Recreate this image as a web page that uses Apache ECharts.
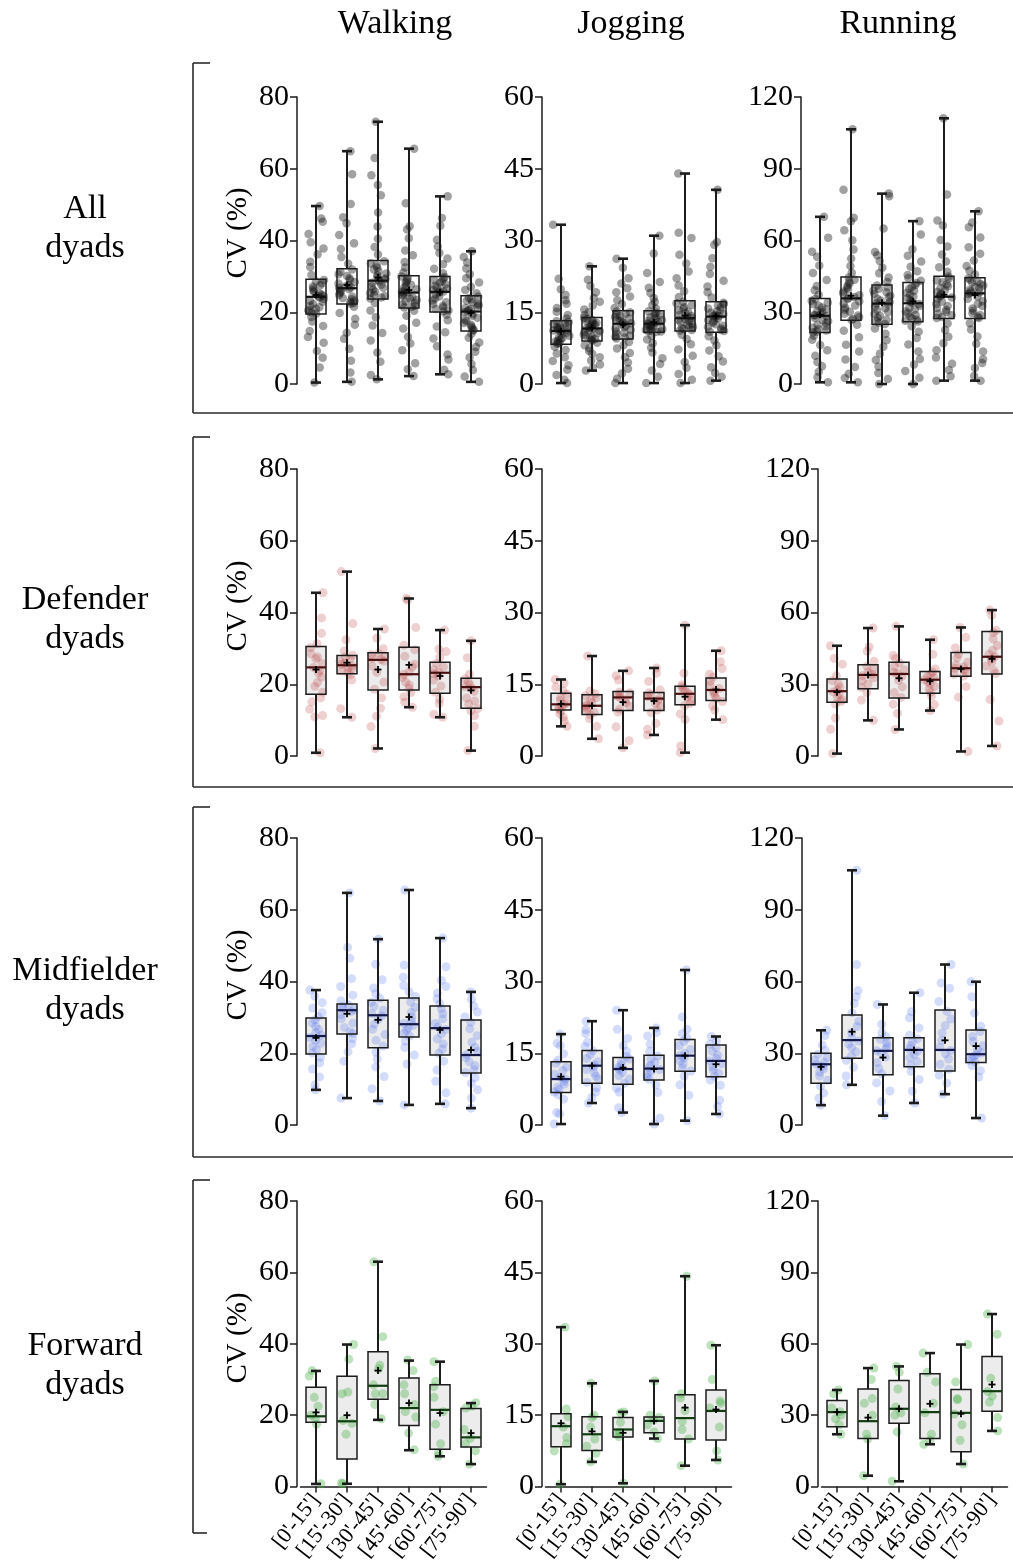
<!DOCTYPE html>
<html><head><meta charset="utf-8">
<script src="https://cdn.jsdelivr.net/npm/echarts@6/dist/echarts.min.js"></script>
<style>html,body{margin:0;padding:0;background:#fff}#c{width:1013px;height:1564px}</style>
</head><body><div id="c"></div>
<script>
// ---------------- DATA ----------------
const categories = ["[0'-15']", "[15'-30']", "[30'-45']", "[45'-60']", "[60'-75']", "[75'-90']"];
const activities = ['Walking', 'Jogging', 'Running'];
const groups = ['All\ndyads', 'Defender\ndyads', 'Midfielder\ndyads', 'Forward\ndyads'];
const yMaxByActivity = [80, 60, 120];
const yStepByActivity = [20, 15, 30];

// box stats per period: [min, Q1, median, Q3, max, mean]
const allWalkBox = [[0.4,19.5,24.3,29.2,49.6,24.8],[0.6,22.3,26.7,32.1,64.9,27.6],[1.3,23.7,28.8,34.4,73.1,29.7],[2.2,21.2,25.5,30.2,65.6,26.2],[2.7,20.1,25.7,30.0,52.3,25.6],[0.6,14.8,20.2,24.6,37.0,19.8]];
const allJogBox = [[0.2,8.3,11.1,13.2,33.3,11.0],[2.8,9.0,11.6,13.9,24.6,11.7],[0.2,9.4,12.6,15.3,26.2,12.4],[0.2,10.8,12.6,15.3,31.0,12.9],[0.2,11.1,13.75,17.4,44.0,14.3],[0.7,10.8,14.1,17.2,40.6,14.2]];
const allRunBox = [[0.7,21.5,28.5,35.8,69.9,29.0],[0.7,26.7,35.8,44.7,106.5,36.9],[0,25.0,33.6,41.4,79.6,34.0],[0,26.0,33.75,42.4,68.1,34.6],[1.4,27.4,36.5,45.1,111.1,37.3],[1.4,27.4,37.9,44.4,72.2,37.2]];
const defWalkBox = [[0.9,17.2,24.7,30.5,45.5,24.1],[10.8,22.9,25.3,28.0,51.4,26.0],[2.1,18.4,26.8,28.8,35.4,24.1],[13.6,18.4,22.8,30.3,43.9,25.4],[10.8,17.5,23.2,26.1,35.1,22.3],[1.5,13.3,19.2,21.7,32.1,18.3]];
const defJogBox = [[6.2,9.6,10.8,13.1,16.0,10.9],[3.6,8.7,10.5,12.8,20.9,10.5],[1.7,9.5,12.25,13.5,17.8,11.25],[4.4,9.5,12.0,13.3,18.4,11.5],[0.7,10.7,13.0,14.6,27.35,12.4],[7.6,11.6,13.8,16.3,22.0,13.9]];
const defRunBox = [[1.0,22.5,27.1,32.2,46.1,26.7],[14.9,28.1,33.9,38.2,53.5,33.9],[11.1,24.2,34.3,39.2,54.2,32.5],[19.0,26.25,31.9,35.3,48.6,31.25],[1.9,33.3,36.7,43.3,53.75,36.4],[4.2,34.3,41.5,52.1,61.0,40.6]];
const midWalkBox = [[9.8,19.8,24.8,29.8,37.6,24.3],[7.5,25.4,32.0,33.7,64.7,31.0],[6.7,21.5,30.6,34.8,51.8,29.3],[5.6,24.5,28.1,35.4,65.5,30.1],[5.9,19.5,27.0,33.2,52.1,26.5],[4.7,14.5,19.5,29.3,37.1,20.9]];
const midJogBox = [[0.2,6.8,9.6,13.2,19.0,10.1],[4.6,8.75,12.4,15.6,21.7,12.4],[2.6,8.5,11.7,14.1,24.0,12.0],[0.2,9.4,11.8,14.6,20.3,11.7],[0.9,11.25,14.5,17.9,32.4,14.5],[2.3,10.1,13.4,16.7,18.5,12.7]];
const midRunBox = [[8.3,17.5,25.4,30.0,39.6,24.3],[16.8,27.9,35.5,46.0,106.5,39.0],[3.9,21.0,31.0,36.5,50.4,28.2],[9.2,24.4,31.4,36.5,55.3,31.4],[12.9,22.6,31.4,48.1,67.1,35.4],[2.9,26.1,29.6,39.7,59.9,33.0]];
const fwdWalkBox = [[0.75,18.0,19.7,27.8,32.4,20.8],[0.8,7.75,18.3,30.9,39.8,20.0],[18.7,24.5,28.25,37.8,63.0,32.5],[10.2,17.1,22.0,30.4,35.3,23.4],[8.5,10.5,21.5,28.5,35.0,20.6],[6.3,11.1,13.8,21.9,23.4,15.0]];
const fwdJogBox = [[0.5,8.4,12.7,15.3,33.5,13.3],[5.2,7.6,11.0,14.7,21.7,11.6],[0.7,10.4,12.0,14.5,15.7,11.3],[10.1,11.3,13.8,14.6,22.2,13.8],[4.4,10.0,14.4,19.3,44.2,16.6],[5.6,9.8,15.9,20.3,29.7,16.2]];
const fwdRunBox = [[22.0,25.2,31.3,36.2,40.6,31.3],[4.6,20.2,27.5,41.0,49.8,29.0],[2.25,26.6,32.7,44.6,50.5,32.7],[17.8,20.2,31.3,47.4,56.1,34.8],[9.5,14.6,31.0,40.8,59.7,30.6],[23.4,31.7,40.1,54.7,72.5,42.9]];

// individual dyad values per period
const allWalkPts = [
 [49.6,46.1,45.2,41.8,39.5,37.8,36.2,34.1,32.6,30.4,29.0,28.6,28.1,27.5,27.2,26.6,26.1,25.7,25.3,24.9,24.6,24.4,24.1,23.7,23.2,22.9,22.3,21.8,21.4,20.9,20.6,20.2,19.9,19.6,18.7,17.4,16.2,14.8,13.1,11.5,9.2,7.3,4.6,0.4],
 [64.9,58.5,50.2,46.5,44.8,41.5,39.2,37.6,35.4,33.5,31.9,31.2,30.6,30.1,29.5,29.0,28.4,28.0,27.6,27.2,26.9,26.8,26.5,26.1,25.7,25.3,24.8,24.4,24.0,23.6,23.2,22.9,22.6,22.4,21.5,19.8,18.2,16.5,14.3,12.6,9.8,6.5,3.2,0.6],
 [73.1,63.0,58.2,55.5,52.6,47.8,43.9,40.5,38.2,36.1,34.2,33.6,33.1,32.5,31.9,31.4,30.8,30.3,29.8,29.4,29.1,28.9,28.6,28.2,27.7,27.2,26.8,26.3,25.8,25.3,24.9,24.5,24.1,23.8,22.6,20.5,18.6,16.3,14.2,12.1,8.8,6.2,2.5,1.3],
 [65.6,50.4,44.0,43.1,40.6,37.2,35.9,34.0,32.5,31.1,30.0,29.6,29.1,28.6,28.2,27.7,27.3,26.8,26.4,26.0,25.7,25.6,25.3,24.9,24.6,24.2,23.8,23.4,23.0,22.6,22.2,21.8,21.5,21.3,20.4,19.0,17.1,15.5,13.2,11.3,9.4,5.8,4.1,2.2],
 [52.3,46.3,44.1,40.2,38.3,36.5,35.0,33.4,32.1,30.9,29.8,29.4,29.0,28.6,28.2,27.8,27.4,27.0,26.6,26.2,25.9,25.8,25.5,25.0,24.4,23.8,23.3,22.8,22.3,21.8,21.3,20.9,20.5,20.2,19.3,17.8,16.0,14.4,12.7,10.5,8.2,6.8,4.0,2.7],
 [37.0,35.4,33.9,32.2,30.6,29.5,28.3,27.1,26.2,25.3,24.4,24.0,23.6,23.2,22.8,22.4,22.0,21.6,21.2,20.9,20.6,20.3,20.0,19.5,19.0,18.5,18.0,17.5,17.0,16.5,16.0,15.6,15.2,14.9,14.0,12.9,11.6,10.3,9.0,7.4,5.6,3.9,2.1,0.6]
];
const allJogPts = [
 [33.3,22.0,19.8,18.6,17.5,16.8,15.9,15.1,14.4,13.7,13.1,12.9,12.7,12.5,12.3,12.1,11.9,11.7,11.5,11.4,11.3,11.2,11.0,10.7,10.4,10.1,9.9,9.6,9.4,9.1,8.9,8.7,8.5,8.4,7.8,7.1,6.4,5.6,4.8,3.9,3.0,1.9,0.9,0.2],
 [24.6,21.8,20.5,19.2,18.0,17.2,16.4,15.6,15.0,14.4,13.8,13.6,13.4,13.2,13.0,12.8,12.6,12.4,12.2,12.0,11.8,11.7,11.5,11.3,11.1,10.8,10.6,10.3,10.1,9.9,9.6,9.4,9.2,9.1,8.6,8.1,7.5,6.9,6.3,5.6,4.9,4.1,3.4,2.8],
 [26.2,24.3,22.1,21.0,20.0,19.2,18.3,17.5,16.7,15.9,15.2,15.0,14.7,14.5,14.2,14.0,13.7,13.5,13.2,13.0,12.8,12.7,12.5,12.2,11.9,11.6,11.3,11.0,10.7,10.4,10.1,9.9,9.7,9.5,8.8,8.1,7.4,6.5,5.6,4.5,3.2,2.2,1.1,0.2],
 [31.0,27.3,23.2,21.3,20.1,19.0,18.0,17.2,16.5,15.8,15.2,14.9,14.7,14.4,14.2,13.9,13.7,13.4,13.2,12.9,12.8,12.7,12.5,12.3,12.2,12.0,11.8,11.7,11.5,11.3,11.2,11.1,11.0,10.9,10.1,9.3,8.5,7.6,6.6,5.4,4.2,2.8,1.5,0.2],
 [44.0,31.6,30.5,27.0,25.2,23.5,22.1,20.6,19.4,18.2,17.2,16.9,16.5,16.1,15.8,15.4,15.1,14.8,14.5,14.2,14.0,13.8,13.6,13.4,13.1,12.9,12.6,12.4,12.1,11.9,11.7,11.5,11.3,11.2,10.3,9.4,8.3,7.2,5.9,4.6,3.4,2.1,0.9,0.2],
 [40.6,29.7,29.1,26.3,24.5,23.0,21.6,20.4,19.2,18.1,17.0,16.7,16.4,16.1,15.8,15.5,15.2,14.9,14.6,14.4,14.2,14.2,14.0,13.7,13.4,13.1,12.8,12.5,12.2,11.9,11.6,11.3,11.1,10.9,10.0,9.1,8.1,7.0,5.8,4.7,3.5,2.3,1.5,0.7]
];
const allRunPts = [
 [69.9,61.2,55.3,53.2,49.5,46.4,43.5,41.0,39.2,37.3,35.5,34.8,34.1,33.4,32.7,32.0,31.3,30.6,30.0,29.4,28.9,28.6,28.3,27.6,26.9,26.2,25.5,24.8,24.1,23.5,22.9,22.4,21.9,21.6,20.2,18.5,16.3,14.1,11.8,9.2,7.4,5.1,2.8,0.7],
 [106.5,81.2,69.5,68.0,64.3,60.1,56.2,52.5,49.3,46.5,44.5,43.6,42.8,42.0,41.2,40.3,39.5,38.7,37.9,37.1,36.4,36.0,35.5,34.6,33.7,32.8,31.9,31.0,30.2,29.4,28.6,27.9,27.2,26.8,24.8,22.3,19.5,16.4,13.6,10.2,7.1,4.3,2.5,0.7],
 [79.6,78.5,65.0,55.2,53.8,51.4,48.6,46.3,44.5,42.6,41.2,40.5,39.8,39.1,38.4,37.7,37.0,36.3,35.6,34.9,34.3,33.8,33.3,32.5,31.7,30.9,30.1,29.3,28.5,27.7,26.9,26.2,25.6,25.1,23.2,21.0,18.3,15.6,12.7,10.0,7.3,4.6,2.1,0],
 [68.1,62.5,56.3,53.6,51.2,49.0,47.1,45.6,44.3,43.2,42.2,41.4,40.6,39.8,39.0,38.2,37.4,36.6,35.8,35.0,34.4,34.0,33.5,32.7,31.9,31.1,30.3,29.6,28.9,28.2,27.5,26.9,26.4,26.1,24.1,21.8,19.2,16.5,13.6,10.5,8.2,5.4,2.6,0],
 [111.1,79.2,68.4,66.3,60.2,57.5,54.1,51.2,48.8,46.9,44.9,44.1,43.3,42.5,41.7,40.9,40.1,39.3,38.5,37.7,37.0,36.7,36.2,35.3,34.4,33.5,32.6,31.8,31.0,30.2,29.4,28.7,28.0,27.6,25.3,22.6,19.8,17.0,14.1,11.1,8.5,5.9,3.2,1.4],
 [72.2,67.5,65.5,61.3,57.2,54.5,51.6,49.3,47.4,45.8,44.2,43.6,43.0,42.4,41.8,41.2,40.6,40.0,39.4,38.8,38.3,38.0,37.6,36.6,35.6,34.6,33.6,32.6,31.6,30.6,29.6,28.8,28.1,27.6,25.4,22.8,19.9,16.8,13.6,10.4,8.8,6.7,3.3,1.4]
];
const defWalkPts = [
 [45.5,38.5,34.2,31.3,30.2,28.5,27.6,27.1,25.8,24.7,23.9,23.1,22.0,20.5,19.4,17.8,16.2,15.1,13.0,11.3,10.9,0.9],
 [51.4,36.9,32.4,29.3,28.1,27.6,27.0,26.4,25.9,25.5,25.1,24.7,24.2,23.7,23.2,22.6,21.2,13.2,10.8],
 [35.4,32.9,29.9,28.6,28.2,27.8,27.2,26.9,26.4,25.1,23.3,20.6,18.6,16.2,13.3,11.1,8.2,2.1],
 [43.9,43.5,35.8,30.9,29.6,27.8,25.6,24.8,23.4,22.8,21.9,20.6,19.8,18.9,17.7,16.5,15.0,13.6],
 [35.1,29.8,29.1,27.5,25.8,24.8,24.0,23.4,22.9,22.3,21.2,19.5,17.8,15.8,14.6,11.6,10.8],
 [32.1,27.4,22.8,21.5,20.6,19.8,19.3,18.8,18.0,16.2,15.3,14.4,13.2,12.6,11.2,8.3,1.5]
];
const defJogPts = [
 [16.0,15.2,14.4,13.6,12.9,12.2,11.6,11.1,10.8,10.4,10.1,9.8,9.4,8.8,8.1,7.3,6.2],
 [20.9,13.6,13.0,12.6,12.2,11.8,11.2,10.7,10.4,10.0,9.5,9.1,8.6,7.8,6.2,3.6],
 [17.8,16.8,15.9,13.4,13.2,12.9,12.5,12.2,11.8,11.1,10.4,9.8,9.2,6.1,3.2,1.7],
 [18.4,17.3,15.6,13.8,13.2,12.8,12.4,12.0,11.6,11.0,10.3,9.6,9.1,6.8,5.6,4.4],
 [27.35,17.3,14.9,14.5,14.1,13.7,13.2,12.8,12.3,11.6,11.0,10.5,8.8,7.6,2.1,0.7],
 [22.0,19.7,18.3,17.1,16.5,15.6,14.8,14.1,13.6,13.2,12.6,12.0,11.4,10.5,9.6,7.6]
];
const defRunPts = [
 [46.1,40.8,38.4,33.6,31.5,30.1,28.7,27.6,26.8,25.9,24.6,23.5,22.8,21.7,15.9,11.2,1.0],
 [53.5,45.6,43.8,39.6,37.5,36.2,35.1,34.2,33.6,32.7,31.5,30.1,28.6,26.5,23.4,14.9],
 [54.2,42.0,40.8,39.0,37.5,36.1,35.0,34.4,33.2,31.6,28.9,26.5,24.5,21.6,17.8,11.1],
 [48.6,42.5,36.4,35.1,34.2,33.4,32.6,31.9,31.0,30.2,29.1,28.0,26.6,25.1,21.5,19.0],
 [53.75,49.6,45.2,42.5,41.0,39.2,38.1,37.3,36.7,36.0,35.1,34.2,33.4,29.0,24.6,1.9],
 [61.0,58.8,52.6,51.6,49.0,46.2,44.1,42.5,41.5,40.5,39.3,37.6,35.8,34.5,23.6,14.6,4.2]
];
const midWalkPts = [
 [37.6,35.9,34.1,32.6,31.3,30.2,29.3,28.4,27.5,26.6,25.7,25.0,24.4,23.6,22.8,21.9,21.0,20.1,18.9,17.3,15.6,13.4,11.2,9.8],
 [64.7,49.5,46.5,40.8,38.6,36.2,34.6,33.5,33.0,32.5,32.1,31.6,30.8,29.6,28.4,27.2,26.0,25.5,24.1,22.6,20.4,17.8,7.5],
 [51.8,44.8,40.5,38.2,36.6,35.3,34.2,33.1,32.0,31.1,30.4,29.4,28.1,26.7,25.2,23.6,22.0,20.3,18.4,16.2,13.5,10.1,6.7],
 [65.5,44.6,41.2,38.9,37.1,35.8,34.2,32.8,31.4,30.1,29.0,28.3,27.8,27.1,26.4,25.6,24.8,23.4,21.6,19.5,17.0,5.6],
 [52.1,44.1,40.3,38.6,36.8,35.2,33.8,32.4,31.0,29.6,28.3,27.4,26.6,25.4,24.0,22.6,21.2,20.0,17.8,15.3,12.2,9.0,5.9],
 [37.1,35.0,33.2,31.5,30.1,28.6,26.8,24.9,23.1,21.6,20.5,19.6,18.8,17.6,16.5,15.4,14.6,13.2,11.6,9.8,7.5,4.7]
];
const midJogPts = [
 [19.0,17.1,16.6,14.9,13.6,12.9,12.1,11.4,10.6,10.0,9.6,9.1,8.5,7.9,7.4,6.9,6.3,5.4,2.6,2.3,0.2],
 [21.7,19.9,19.1,17.3,16.4,15.5,14.7,13.9,13.2,12.6,12.1,11.6,10.9,10.2,9.6,8.9,7.8,6.9,5.8,4.6],
 [24.0,20.0,18.1,16.6,15.4,14.3,13.8,13.2,12.6,12.0,11.6,11.0,10.3,9.6,8.7,7.7,6.9,3.6,2.6],
 [20.3,19.3,18.6,16.9,15.4,14.4,13.8,13.1,12.5,12.0,11.6,11.2,10.6,10.0,9.5,8.4,6.8,1.4,0.2],
 [32.4,22.6,20.0,19.1,18.2,17.5,16.6,15.8,15.0,14.5,14.0,13.4,12.7,11.9,11.3,10.2,8.4,6.2,0.9],
 [18.5,17.6,16.9,16.2,15.4,14.6,13.9,13.4,12.8,12.1,11.5,10.8,10.2,9.4,8.3,5.2,3.9,2.3]
];
const midRunPts = [
 [39.6,37.4,33.5,31.2,29.6,28.2,27.1,26.2,25.4,24.6,23.5,22.1,20.5,18.7,16.2,13.4,11.2,8.3],
 [106.5,67.1,56.2,53.6,50.8,46.9,43.4,41.2,38.6,36.3,35.1,33.8,32.4,30.6,28.8,27.0,24.1,20.5,16.8],
 [50.4,42.1,38.6,36.9,35.8,34.4,33.1,31.9,31.0,30.2,28.4,26.1,23.6,21.4,17.6,14.2,9.8,3.9],
 [55.3,47.4,44.8,40.6,37.5,36.0,34.7,33.2,31.8,30.9,29.6,28.1,26.5,25.0,22.4,19.0,14.1,9.2],
 [67.1,59.4,57.2,51.6,47.5,44.3,41.6,38.5,35.3,32.4,31.1,29.8,27.6,25.4,23.3,20.8,17.5,12.9],
 [59.9,53.6,46.8,41.3,39.1,37.0,34.9,33.1,31.5,30.1,29.4,28.7,27.9,27.0,26.2,24.8,22.7,20.0,2.9]
];
const fwdWalkPts = [
 [32.5,31.0,25.0,22.5,20.0,19.0,17.5,0.8],
 [39.8,35.7,26.5,26.0,18.5,17.7,14.7,1.0,0.8],
 [63.0,42.0,34.0,33.0,28.5,26.0,26.0,23.0,19.0],
 [35.5,32.5,28.5,26.0,23.0,21.0,19.5,15.0,10.3],
 [35.0,29.5,28.0,25.0,21.0,17.5,12.0,9.5,8.5],
 [23.5,22.5,22.0,16.0,13.5,12.0,10.0,6.3]
];
const fwdJogPts = [
 [33.5,16.3,14.7,12.5,10.3,9.0,7.5,0.5],
 [21.7,15.0,14.5,12.5,10.0,8.5,7.0,5.2],
 [15.7,15.5,13.5,11.5,11.0,10.5,0.7],
 [22.2,15.0,14.5,14.0,13.0,11.5,10.1],
 [44.2,19.5,18.6,16.0,13.7,12.0,10.0,4.4],
 [29.7,22.5,18.0,17.5,16.5,12.5,7.5,5.6]
];
const fwdRunPts = [
 [40.6,39.0,33.0,31.5,30.0,28.5,26.0,22.0],
 [49.8,45.0,37.0,35.0,30.0,22.0,20.0,4.6],
 [50.5,48.0,41.0,33.5,31.0,30.0,23.0,2.25],
 [56.1,48.0,44.0,35.0,31.0,22.0,19.5,17.8],
 [59.7,44.0,37.0,36.5,30.5,26.0,19.5,9.5],
 [72.5,64.0,45.5,40.0,38.0,35.5,29.0,23.4]
];

// ---------------- LAYOUT / STYLE ----------------
const FONT = "'Liberation Serif','Times New Roman',serif";
const panelData = [
  [[allWalkBox, allWalkPts], [allJogBox, allJogPts], [allRunBox, allRunPts]],
  [[defWalkBox, defWalkPts], [defJogBox, defJogPts], [defRunBox, defRunPts]],
  [[midWalkBox, midWalkPts], [midJogBox, midJogPts], [midRunBox, midRunPts]],
  [[fwdWalkBox, fwdWalkPts], [fwdJogBox, fwdJogPts], [fwdRunBox, fwdRunPts]]
];
const rowTop = [97, 469, 838, 1201];
const plotH = 287;
const axisX = [[297, 542, 801], [297, 542, 818], [297, 542, 802], [297, 542, 818]];
const bandW = 31;
const AX_OFF = 3.5;
const dotColor = ['rgba(20,20,20,0.5)', 'rgba(185,60,60,0.30)', 'rgba(80,110,240,0.30)', 'rgba(70,175,70,0.45)'];
const dotSize = [8.5, 9, 9, 9];
const jitterW = [17, 14, 14, 14];
const medColor = ['#111', '#4a1010', '#14194a', '#123d12'];
const boxFill = ['rgba(0,0,0,0)', '#ececec', '#ececec', '#ececec'];
const lineC = '#1c1c1c';

function fillRender(fill) {
  return function (params, api) {
    const i = api.value(0);
    const top = api.coord([i, api.value(4)]);
    const bot = api.coord([i, api.value(2)]);
    return { type: 'rect', shape: { x: top[0] - 10, y: top[1], width: 20, height: bot[1] - top[1] }, style: { fill: fill, stroke: 'none' } };
  };
}
function lineRender(med) {
  return function (params, api) {
    const i = api.value(0);
    const x = api.coord([i, 0])[0];
    const Y = k => api.coord([i, api.value(k)])[1];
    const mn = Y(1), q1 = Y(2), md = Y(3), q3 = Y(4), mx = Y(5), mean = Y(6);
    const ls = { stroke: lineC, lineWidth: 2, fill: 'none' };
    const cap = { stroke: lineC, lineWidth: 2.6, fill: 'none' };
    return { type: 'group', children: [
      { type: 'line', shape: { x1: x, y1: mx, x2: x, y2: q3 }, style: ls },
      { type: 'line', shape: { x1: x, y1: q1, x2: x, y2: mn }, style: ls },
      { type: 'line', shape: { x1: x - 5, y1: mx, x2: x + 5, y2: mx }, style: cap },
      { type: 'line', shape: { x1: x - 5, y1: mn, x2: x + 5, y2: mn }, style: cap },
      { type: 'rect', shape: { x: x - 10, y: q3, width: 20, height: q1 - q3 }, style: { stroke: lineC, lineWidth: 1.5, fill: 'none' } },
      { type: 'line', shape: { x1: x - 10, y1: md, x2: x + 10, y2: md }, style: { stroke: med, lineWidth: 2.2 } },
      { type: 'line', shape: { x1: x - 3.5, y1: mean, x2: x + 3.5, y2: mean }, style: { stroke: '#000', lineWidth: 1.8 } },
      { type: 'line', shape: { x1: x, y1: mean - 3.5, x2: x, y2: mean + 3.5 }, style: { stroke: '#000', lineWidth: 1.8 } }
    ] };
  };
}

const grids = [], xAxes = [], yAxes = [], series = [];
for (let r = 0; r < 4; r++) {
  for (let c = 0; c < 3; c++) {
    const idx = r * 3 + c;
    const last = r === 3;
    grids.push({ left: axisX[r][c] + AX_OFF, top: rowTop[r], width: bandW * 6, height: plotH });
    xAxes.push({
      gridIndex: idx, type: 'category', data: categories, boundaryGap: true,
      jitter: jitterW[r], jitterOverlap: true,
      axisLine: { show: last, lineStyle: { color: lineC, width: 1.5 } },
      axisTick: { show: last, alignWithLabel: true, length: 6, lineStyle: { color: lineC, width: 1.5 } },
      axisLabel: { show: last, rotate: 52, interval: 0, fontSize: 22, fontFamily: FONT, color: '#000', margin: 10 },
      splitLine: { show: false }
    });
    yAxes.push({
      gridIndex: idx, type: 'value', min: 0, max: yMaxByActivity[c], interval: yStepByActivity[c], offset: AX_OFF,
      axisLine: { show: true, lineStyle: { color: lineC, width: 1.5 } },
      axisTick: { show: true, length: 7, lineStyle: { color: lineC, width: 1.5 } },
      axisLabel: { fontSize: 30, fontFamily: FONT, color: '#000', margin: 8 },
      splitLine: { show: false }
    });
    const [box, pts] = panelData[r][c];
    const boxRows = box.map((b, i) => [i].concat(b));
    const dots = [];
    pts.forEach((arr, i) => arr.forEach(v => dots.push([i, v])));
    series.push({ type: 'custom', xAxisIndex: idx, yAxisIndex: idx, z: 1, silent: true, renderItem: fillRender(boxFill[r]), encode: { x: 0, y: [1, 2, 3, 4, 5, 6] }, data: boxRows });
    series.push({ type: 'scatter', xAxisIndex: idx, yAxisIndex: idx, z: 2, silent: true, symbolSize: dotSize[r], itemStyle: { color: dotColor[r], borderWidth: 0 }, data: dots });
    series.push({ type: 'custom', xAxisIndex: idx, yAxisIndex: idx, z: 3, silent: true, renderItem: lineRender(medColor[r]), encode: { x: 0, y: [1, 2, 3, 4, 5, 6] }, data: boxRows });
  }
}

// ---------------- TEXT & BRACKETS ----------------
const graphic = [];
const titleX = [395, 631, 898];
activities.forEach((t, i) => graphic.push({ type: 'text', x: titleX[i], y: 24, style: { text: t, font: '34px ' + FONT, fill: '#000', textAlign: 'center', textVerticalAlign: 'middle' } }));
const labelY = [229, 620, 991, 1366];
groups.forEach((t, i) => graphic.push({ type: 'text', x: 85, y: labelY[i], style: { text: t, font: '34px ' + FONT, fill: '#000', textAlign: 'center', textVerticalAlign: 'middle', lineHeight: 39 } }));
const cvY = [233, 606, 975, 1338];
cvY.forEach(y => graphic.push({ type: 'text', x: 238, y: y, rotation: Math.PI / 2, style: { text: 'CV (%)', font: '29px ' + FONT, fill: '#000', textAlign: 'center', textVerticalAlign: 'middle' } }));
const brackets = [[63, 413, 1013], [437, 787, 1013], [807, 1157, 1013], [1180, 1533, 207]];
brackets.forEach(([y0, y1, xEnd]) => {
  const st = { stroke: '#2a2a2a', lineWidth: 1.6 };
  graphic.push({ type: 'line', shape: { x1: 193, y1: y0, x2: 193, y2: y1 }, style: st });
  graphic.push({ type: 'line', shape: { x1: 193, y1: y0, x2: 210, y2: y0 }, style: st });
  graphic.push({ type: 'line', shape: { x1: 193, y1: y1, x2: xEnd, y2: y1 }, style: st });
});

const chart = echarts.init(document.getElementById('c'), null, { renderer: 'canvas' });
chart.setOption({ animation: false, backgroundColor: '#fff', grid: grids, xAxis: xAxes, yAxis: yAxes, series: series, graphic: graphic });
</script></body></html>
